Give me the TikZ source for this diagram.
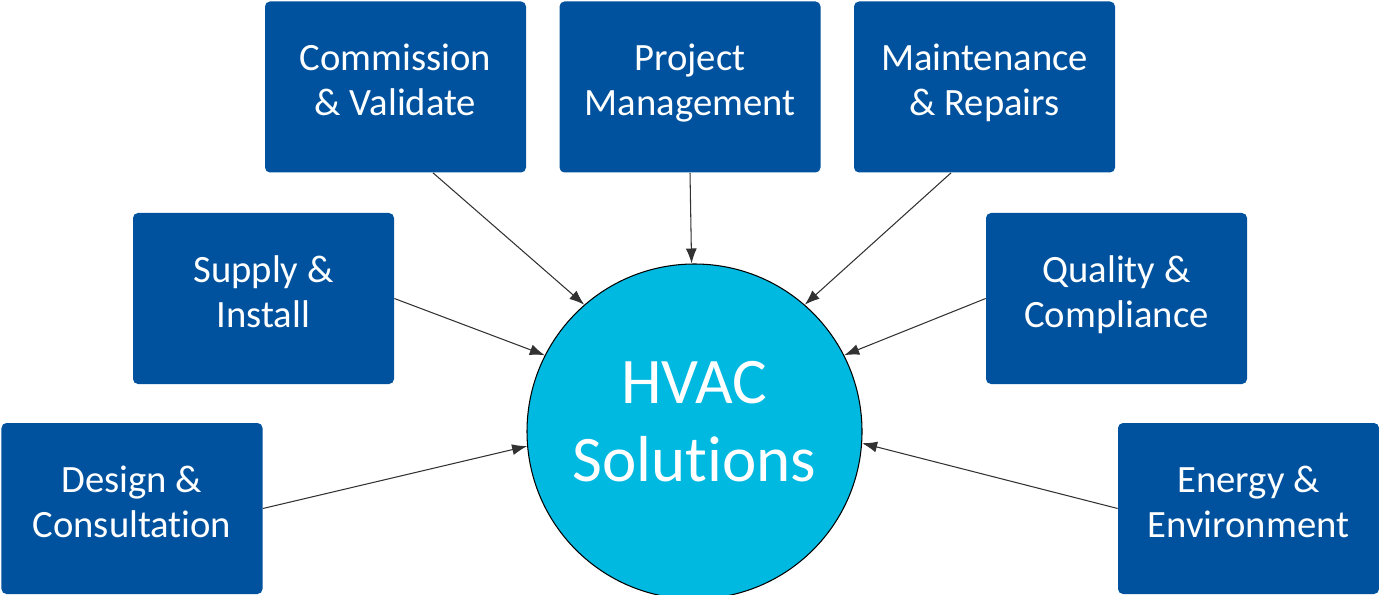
\documentclass[tikz,border=0pt]{standalone}
\usepackage{fontspec}
\setmainfont{Carlito}[Ligatures=NoCommon]
\usetikzlibrary{arrows.meta}
\definecolor{boxblue}{RGB}{0,82,158}
\definecolor{hvaccyan}{RGB}{0,185,225}
\definecolor{arrowgray}{RGB}{50,50,50}

\begin{document}
\begin{tikzpicture}[
    service/.style={fill=boxblue, text=white, rounded corners=0.1cm, minimum width=5.22cm, minimum height=3.42cm, inner sep=0pt, align=center, text depth=0.28cm, font=\fontsize{22}{25.6}\selectfont},
    hub/.style={circle, fill=hvaccyan, draw=black, line width=0.6pt, minimum size=6.7cm, inner sep=0pt, text=white, align=center, text depth=0.4cm, font=\fontsize{37}{44}\selectfont},
    feed/.style={draw=arrowgray, line width=0.6pt, -{Latex[length=0.3cm,width=0.22cm]}}]
    \useasboundingbox (0,0) rectangle (27.58,-11.9);
    \clip (0,0) rectangle (27.58,-11.9);
    \node[hub] (hvac) at (13.89,-8.63) {HVAC\\Solutions};
    \node[service] (comm) at (7.91,-1.74) {Commission\\\& Validate};
    \node[service] (proj) at (13.8,-1.74) {Project\\Management};
    \node[service] (maint) at (19.69,-1.74) {Maintenance\\\& Repairs};
    \node[service] (supply) at (5.27,-5.97) {Supply \&\\Install};
    \node[service] (quality) at (22.33,-5.97) {Quality \&\\Compliance};
    \node[service] (design) at (2.64,-10.17) {Design \&\\Consultation};
    \node[service] (energy) at (24.97,-10.17) {Energy \&\\Environment};
    \draw[feed] ([xshift=0.75cm]comm.south) -- (hvac.131.6);
    \draw[feed] (proj.south) -- (hvac.91.5);
    \draw[feed] ([xshift=-0.67cm]maint.south) -- (hvac.49.6);
    \draw[feed] (supply.east) -- (hvac.153.5);
    \draw[feed] (quality.west) -- (hvac.27.9);
    \draw[feed] (design.east) -- (hvac.185.3);
    \draw[feed] (energy.west) -- (hvac.-4.6);
  \end{tikzpicture}
\end{document}
